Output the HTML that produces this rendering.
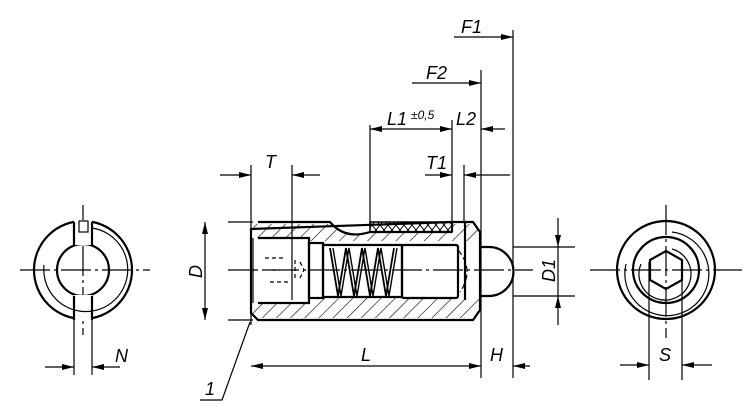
<!DOCTYPE html><html><head><meta charset="utf-8"><style>body{margin:0;background:#fff}svg{display:block}text{font-family:"Liberation Sans",sans-serif;font-style:italic;fill:#000}</style></head><body>
<svg width="750" height="420" viewBox="0 0 750 420" xmlns="http://www.w3.org/2000/svg">
<defs>
<pattern id="h" patternUnits="userSpaceOnUse" width="10" height="10" patternTransform="rotate(45)"><line x1="0" y1="0" x2="0" y2="10" stroke="#000" stroke-width="1.2"/></pattern>
<pattern id="x" patternUnits="userSpaceOnUse" width="8" height="10"><path d="M0 0L8 10M8 0L0 10" stroke="#000" stroke-width="1"/></pattern>
<marker id="a" viewBox="0 0 12 6" refX="12" refY="3" markerWidth="12" markerHeight="6" orient="auto-start-reverse" markerUnits="userSpaceOnUse"><path d="M0 0L12 3L0 6z"/></marker>
</defs>
<g stroke="#000" fill="none" stroke-width="1.2">
<path d="M228 270H533M20 270H150M83 205V335M590 270H742M666 205V338" stroke-dasharray="30 4 3 4"/>
<path d="M253 224H330Q345 240 370 232H452V224H473L480 232V241H309V238H253Z" fill="url(#h)" stroke="none"/>
<path d="M253 303H309V298H480V310L474 318H253Z" fill="url(#h)" stroke="none"/>
<rect x="370" y="222" width="82" height="10" fill="url(#x)" stroke-width="1.5"/>
<g stroke-width="2.2">
<path d="M258 222H330Q345 240 370 232H452M452 222H473L480 232V310L473 320H258L251 313V229Z"/>
<path d="M452 222V232M465 222V300"/>
<path d="M258 238H309V303H258"/>
<rect x="309" y="243" width="14" height="55"/>
<path d="M323 245H402V297H323"/>
<rect x="402" y="245" width="56" height="53" rx="2"/>
<path d="M480 247H489A24.5 24.5 0 0 1 489 296H480"/>
<path d="M330 248L338 296L346 248L354 296L362 248L370 296L378 248L386 296L394 248" stroke-width="1.8"/>
<path d="M333 248L341 296L349 248L357 296L365 248L373 296L381 248L389 296L397 248" stroke-width="1.4"/>
<path d="M323 243V298"/>
<path d="M253 238V303" stroke-width="1.2"/>
</g>
<path d="M265 258H285M265 270H280M270 282H290M295 260V280M300 262L304 270L300 278" stroke-dasharray="4 3"/>
<path d="M458 250Q475 270 460 292" stroke-dasharray="6 3"/>
<path d="M251 165V325M292 165V300"/>
<path d="M220 175H251" marker-end="url(#a)"/><path d="M320 175H292" marker-end="url(#a)"/>
<path d="M228 222H253M228 320H253"/>
<path d="M205 222V320" marker-start="url(#a)" marker-end="url(#a)"/>
<path d="M370 125V222M452 120V222M464 165V222M481 70V378M513 30V378"/>
<path d="M370 129H452" marker-start="url(#a)" marker-end="url(#a)"/>
<path d="M505 129H481" marker-end="url(#a)"/>
<path d="M425 175H452" marker-end="url(#a)"/><path d="M510 175H464" marker-end="url(#a)"/>
<path d="M412 83H481" marker-end="url(#a)"/>
<path d="M454 37H513" marker-end="url(#a)"/>
<path d="M251 366H481" marker-start="url(#a)" marker-end="url(#a)"/>
<path d="M530 366H513" marker-end="url(#a)"/>
<path d="M250 322L222 400H200"/>
<path d="M513 247H575M513 296H575"/>
<path d="M558 218V247" marker-end="url(#a)"/><path d="M558 325V296" marker-end="url(#a)"/><path d="M558 247V296"/>
<g stroke-width="2.2"><circle cx="83" cy="270" r="49"/><circle cx="83" cy="270" r="26"/></g>
<rect x="74" y="220" width="18" height="25" fill="#fff" stroke="none"/><rect x="74" y="295" width="18" height="26" fill="#fff" stroke="none"/>
<g stroke-width="2.2"><path d="M74 222V245M92 222V245M74 296V320M92 296V320"/></g>
<rect x="79" y="221" width="9" height="11"/>
<path d="M92 228A42 42 0 1 1 44 265"/>
<path d="M74 296V375M92 296V375"/>
<path d="M45 367H74" marker-end="url(#a)"/><path d="M120 367H92" marker-end="url(#a)"/>
<g stroke-width="2.2"><circle cx="666" cy="270" r="49"/><circle cx="666" cy="270" r="33"/><path d="M666 251L682 260V280L666 289L650 280V260Z"/></g>
<path d="M672 232A42 42 0 1 1 626 264M672 249A26 26 0 1 1 641 264M662 221H672"/>
<path d="M649 262V380M682 262V380"/>
<path d="M620 365H649" marker-end="url(#a)"/><path d="M712 365H682" marker-end="url(#a)"/>
</g>
<g font-size="18">
<text x="265" y="168">T</text>
<text x="426" y="169">T1</text>
<text x="387" y="125">L1</text><text x="411" y="119" font-size="12">±0,5</text>
<text x="456" y="125">L2</text>
<text x="426" y="79">F2</text>
<text x="461" y="33">F1</text>
<text x="361" y="361">L</text>
<text x="490" y="361">H</text>
<text x="205" y="395">1</text>
<text x="115" y="362">N</text>
<text x="659" y="361">S</text>
<text transform="translate(202,278) rotate(-90)">D</text>
<text transform="translate(555,282) rotate(-90)">D1</text>
</g>
</svg></body></html>
